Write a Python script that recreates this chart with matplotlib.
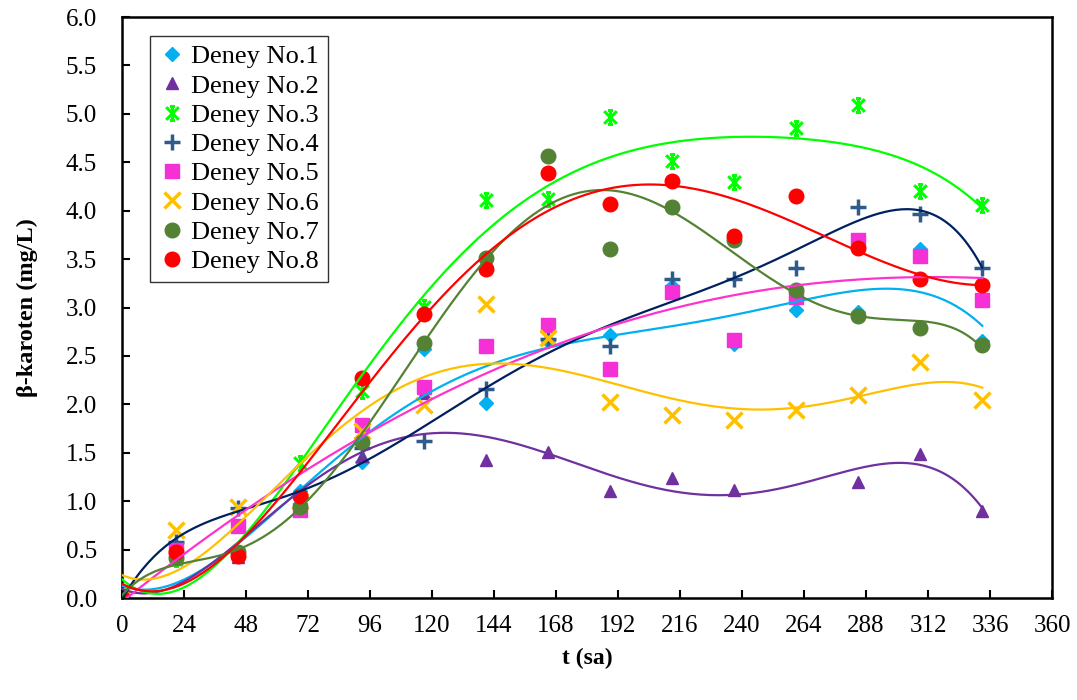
#!/usr/bin/env python3
import numpy as np
import matplotlib
matplotlib.use("Agg")
import matplotlib.pyplot as plt
from matplotlib.path import Path

# sampling times (h)
t = [0, 21, 45, 69, 93, 117, 141, 165, 189, 213, 237, 261, 285, 309, 333]

deney1 = [0.0, 0.45, 0.43, 1.10, 1.40, 2.57, 2.01, 2.65, 2.72, 3.22, 2.62, 2.97, 2.95, 3.60, 2.65]
deney2 = [0.0, 0.40, 0.42, 0.95, 1.47, 2.12, 1.43, 1.51, 1.10, 1.24, 1.12, np.nan, 1.20, 1.49, 0.90]
deney3 = [0.05, 0.40, 0.45, 1.39, 2.14, 3.01, 4.11, 4.12, 4.97, 4.51, 4.30, 4.85, 5.09, 4.20, 4.06]
deney4 = [0.0, 0.58, 0.93, 1.05, 1.55, 1.62, 2.16, 2.67, 2.60, 3.29, 3.29, 3.41, 4.04, 3.97, 3.41]
deney5 = [0.0, 0.50, 0.74, 0.91, 1.79, 2.18, 2.60, 2.82, 2.36, 3.16, 2.66, 3.11, 3.70, 3.53, 3.08]
deney6 = [0.0, 0.70, 0.94, 1.00, 1.72, 1.99, 3.04, 2.68, 2.02, 1.89, 1.84, 1.94, 2.10, 2.44, 2.05]
deney7 = [0.0, 0.41, 0.48, 0.94, 1.61, 2.63, 3.51, 4.56, 3.60, 4.04, 3.70, 3.18, 2.91, 2.79, 2.61]
deney8 = [0.0, 0.48, 0.43, 1.05, 2.27, 2.93, 3.40, 4.39, 4.07, 4.31, 3.74, 4.15, 3.61, 3.29, 3.23]

labels = ["Deney No.%d" % i for i in range(1, 9)]

# polynomial trendline order per series
trend_order = [5, 5, 5, 6, 4, 5, 6, 5]

# excel-like star marker: X plus vertical bar with small caps
star = Path(
    [(-1, -1), (1, 1), (-1, 1), (1, -1), (0, -1.1), (0, 1.1),
     (-0.4, 1.1), (0.4, 1.1), (-0.4, -1.1), (0.4, -1.1)],
    [Path.MOVETO, Path.LINETO] * 5,
)

styles = [
    dict(marker="D", ms=7.5, color="#00B0F0"),
    dict(marker="^", ms=9, color="#7030A0"),
    dict(marker=star, ms=10, color="#00FF00", mew=2.2),
    dict(marker="+", ms=12, color="#2F5B8C", mew=2.5),
    dict(marker="s", ms=9.5, color="#F530D6"),
    dict(marker="x", ms=11, color="#FFC000", mew=2.5),
    dict(marker="o", ms=10.5, color="#548235"),
    dict(marker="o", ms=10.5, color="#FF0000"),
]
line_colors = ["#00B0F0", "#7030A0", "#00FF00", "#002060",
               "#FF33CC", "#FFC000", "#548235", "#FF0000"]

plt.rcParams["font.family"] = ["Liberation Serif", "DejaVu Serif"]

fig = plt.figure(figsize=(10.77, 7.0), dpi=100)
ax = fig.add_axes([0.1133, 0.1457, 0.8635, 0.830])

x = np.array(t, dtype=float)
series = [deney1, deney2, deney3, deney4, deney5, deney6, deney7, deney8]
for y, st, lc, lab, deg in zip(series, styles, line_colors, labels, trend_order):
    y = np.array(y, dtype=float)
    ax.plot(x, y, ls="none", label=lab, zorder=2, **st)
    ok = ~np.isnan(y)
    coef = np.polyfit(x[ok] / 333.0, y[ok], deg)
    xs = np.linspace(0, 333, 300)
    ax.plot(xs, np.polyval(coef, xs / 333.0), color=lc, lw=1.6, zorder=3)

ax.set_xlim(0, 360)
ax.set_ylim(0, 6)
ax.set_xticks(np.arange(0, 361, 24))
ax.set_yticks(np.arange(0, 6.01, 0.5))
ax.set_yticklabels(["%.1f" % v for v in np.arange(0, 6.01, 0.5)])
ax.tick_params(direction="in", length=6, width=1.5, labelsize=18)
ax.tick_params(axis="y", pad=18)
ax.tick_params(axis="x", pad=12)
for s in ax.spines.values():
    s.set_linewidth(1.8)

ax.set_xlabel("t (sa)", fontsize=17, fontweight="bold", labelpad=8)
ax.set_ylabel("β-karoten (mg/L)", fontsize=17.5, fontweight="bold", labelpad=20)

leg = ax.legend(loc="upper left", bbox_to_anchor=(0.03, 0.968), fontsize=19,
                frameon=True, fancybox=False, edgecolor="black",
                handlelength=1.0, handletextpad=0.2, labelspacing=0.22,
                borderpad=0.35, borderaxespad=0)
leg.get_frame().set_linewidth(1.0)

fig.savefig("out.png", dpi=100)
